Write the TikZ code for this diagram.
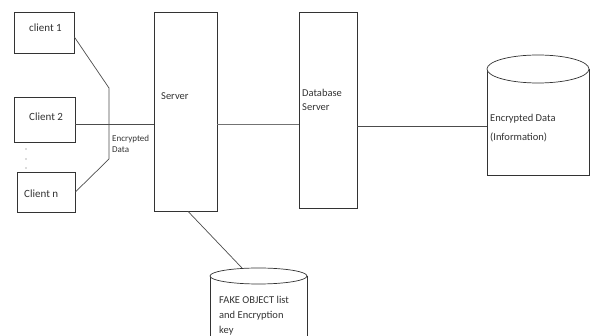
\documentclass[tikz,border=0pt]{standalone}
\usepackage{fontspec}
\setmainfont{Carlito}
\usetikzlibrary{shapes.geometric}
\begin{document}
\begin{tikzpicture}[x=1pt,y=-1pt,
  box/.style={draw=black!80,line width=0.7pt,fill=white},
  wire/.style={draw=black!70,line width=0.7pt},
  lbl/.style={inner sep=0pt,anchor=west,font=\fontsize{10.5}{12}\selectfont,text=black!80},
  small/.style={inner sep=0pt,anchor=west,font=\fontsize{9}{11}\selectfont,text=black!80,align=left}]
\useasboundingbox (0,0) rectangle (590,336);

% clients
\node[box,minimum width=60pt,minimum height=41pt] (c1) at (44,32.5) {};
\node[box,minimum width=61pt,minimum height=45pt] (c2) at (44.5,119.5) {};
\node[box,minimum width=58pt,minimum height=40pt] (cn) at (46,192) {};
\node[lbl,font=\fontsize{11}{12}\selectfont] at (29,28) {client 1};
\node[lbl,font=\fontsize{11}{12}\selectfont] at (29,117) {Client 2};
\node[lbl,font=\fontsize{11}{12}\selectfont] at (24,194) {Client n};
\foreach \yy in {149,159,168} \fill[black!60] (26,\yy) circle (0.6pt);

% servers
\node[box,minimum width=63pt,minimum height=199pt] (srv) at (185.5,111.5) {};
\node[lbl] at (161,96) {Server};
\node[box,minimum width=58pt,minimum height=196pt] (db) at (328,110) {};
\node[lbl,align=left,anchor=north west,font=\fontsize{10.5}{14}\selectfont] at (302,89) {Database\\Server};

% junction of the client links
\coordinate (jt) at (109,88);
\coordinate (jb) at (109,159);
\draw[wire] (c1.east |- 0,37) -- (jt) -- (jb) -- (cn.east |- 0,192);
\draw[wire] (c2.east |- 0,124) -- (srv.west |- 0,124);
\node[small,anchor=north west] at (112,135) {Encrypted\\Data};

% encrypted data store
\coordinate (ct) at (538,69);
\draw[box] (487,69) -- (487,175) -- (589,175) -- (589,69);
\draw[box] (ct) ellipse (51pt and 14pt);
\node[lbl] (cyl) at (490,119) {Encrypted Data};
\node[lbl] at (490,137) {(Information)};
\coordinate (cl) at (487,126);
\draw[wire,line width=1pt,draw=black!55] (srv.east |- 0,125) -- (db.west |- 0,125);
\draw[wire] (db.east |- 0,126) -- (cl);

% fake object store
\coordinate (ft) at (258.5,276);
\draw[box] (210,276) -- (210,340) (307,340) -- (307,276);
\draw[box] (ft) ellipse (48.5pt and 8pt);
\node[lbl,align=left,anchor=north west,font=\fontsize{10.5}{15}\selectfont] at (219,296) {FAKE OBJECT list\\and Encryption\\key};
\draw[wire] (srv.south -| 188,0) -- (242,268);
\end{tikzpicture}
\end{document}
